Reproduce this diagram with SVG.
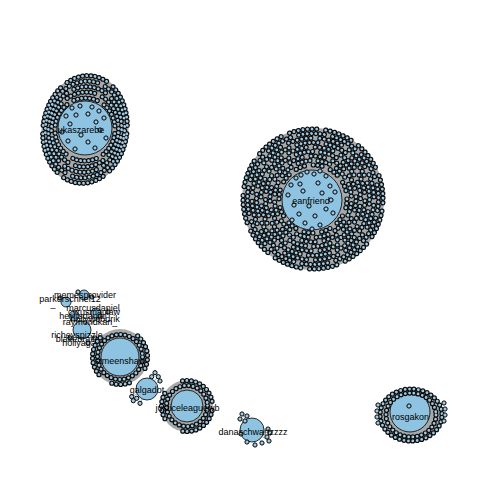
<svg xmlns="http://www.w3.org/2000/svg" width="480" height="480" viewBox="0 0 480 480">
<style>
.e{fill:#a9a9a9}
.el{stroke:#a9a9a9;stroke-width:1;fill:none}
.hub{fill:#8ec3e2;stroke:#000;stroke-width:0.8}
.lf{fill:#9fcae2;stroke:#000;stroke-width:1}
.rb{fill:none;stroke:#0d0d0d;stroke-width:5.2;stroke-linecap:round}
.rl{fill:none;stroke:#9fcae2;stroke-width:2.8;stroke-linecap:round}
text{font-family:"Liberation Sans",Arial,Helvetica,sans-serif;font-size:9px;text-anchor:middle;fill:#000}
</style>
<defs>
<circle id="n" r="2.1" class="lf"/>
<g id="bigR">
<circle r="34" stroke-dasharray="0 4.4506 0 4.4506 0 8.9012"/>
<circle r="38.5" transform="rotate(7)" stroke-dasharray="0 4.0317 0 4.0317 0 4.0317 0 8.0634"/>
<circle r="43" transform="rotate(-3)" stroke-dasharray="0 4.503 0 4.503 0 4.503 0 9.006"/>
<circle r="47.5" transform="rotate(9)" stroke-dasharray="0 4.1452 0 4.1452 0 4.1452 0 4.1452 0 8.2904"/>
<circle r="52" transform="rotate(2)" stroke-dasharray="0 4.5379 0 4.5379 0 4.5379 0 4.5379 0 9.0758"/>
<circle r="56.5" transform="rotate(13)" stroke-dasharray="0 4.2262 0 4.2262 0 4.2262 0 4.2262 0 4.2262 0 8.4524"/>
<circle r="61" transform="rotate(6)" stroke-dasharray="0 4.5628 0 4.5628 0 4.5628 0 4.5628 0 4.5628 0 9.1256"/>
<circle r="65.5" transform="rotate(17)" stroke-dasharray="0 4.287 0 4.287 0 4.287 0 4.287 0 4.287 0 4.287 0 8.574"/>
<circle r="70" transform="rotate(10)" stroke-dasharray="0 4.5815 0 4.5815 0 4.5815 0 4.5815 0 4.5815 0 4.5815 0 9.163"/>
</g>
<g id="tlR">
<ellipse rx="30" ry="31.5" stroke-dasharray="0 4.025 0 4.025 0 4.025 0 4.025 0 4.025 0 4.025 0 8.05"/>
<ellipse rx="33.5" ry="37.5" stroke-dashoffset="6" stroke-dasharray="0 4.134 0 4.134 0 4.134 0 4.134 0 4.134 0 4.134 0 4.134 0 8.268"/>
<ellipse rx="36.5" ry="43" stroke-dashoffset="-3" stroke-dasharray="0 4.17 0 4.17 0 4.17 0 4.17 0 4.17 0 4.17 0 4.17 0 4.17 0 8.34"/>
<ellipse rx="39.5" ry="48.5" stroke-dashoffset="9" stroke-dasharray="0 4.2 0 4.2 0 4.2 0 4.2 0 4.2 0 4.2 0 4.2 0 4.2 0 4.2 0 8.4"/>
<ellipse rx="42" ry="54" stroke-dashoffset="2" stroke-dasharray="0 4.205 0 4.205 0 4.205 0 4.205 0 4.205 0 4.205 0 4.205 0 4.205 0 4.205 0 4.205 0 8.41"/>
</g>
<g id="smR">
<circle cx="120" cy="357" r="22.5" stroke-dasharray="0 4.418"/>
<path d="M98.93,374.68 A27.5,27.5 0 0 1 102.32,335.93" stroke-dasharray="0 4.45"/>
<path d="M137.68,335.93 A27.5,27.5 0 0 1 143.82,370.75" stroke-dasharray="0 4.45"/>
<path d="M129.41,382.84 A27.5,27.5 0 0 1 110.59,382.84" stroke-dasharray="0 4.45"/>
</g>
<g id="jlR">
<circle cx="187" cy="406" r="20.5" stroke-dasharray="0 4.442"/>
<path d="M182.57,380.89 A25.5,25.5 0 0 1 212.11,401.57" stroke-dasharray="0 4.4"/>
<path d="M212.11,410.43 A25.5,25.5 0 0 1 182.57,431.11" stroke-dasharray="0 4.4"/>
<path d="M164.92,418.75 A25.5,25.5 0 0 1 164.92,393.25" stroke-dasharray="0 4.4"/>
</g>
<g id="rgR">
<ellipse cx="411" cy="415" rx="25" ry="22" stroke-dasharray="0 4.347"/>
<ellipse cx="411" cy="415" rx="31" ry="26" stroke-dashoffset="2" stroke-dasharray="0 4.486"/>
</g>
</defs>
<rect width="480" height="480" fill="#fff"/>
<g id="edges">
<circle cx="313" cy="199" r="71" class="e"/>
<ellipse rx="43.5" ry="55.5" transform="translate(85,129.5) rotate(8)" class="e"/>
<circle cx="120" cy="357" r="28" class="e"/>
<circle cx="187" cy="406" r="26" class="e"/>
<ellipse cx="411" cy="415" rx="33" ry="27" class="e"/>
<path class="el" d="M147,389L151.7,376.7M147,389L155,372.7M147,389L158.3,376.7M147,389L160,381M147,389L131.7,396.7M147,389L133.3,400.7M147,389L140,403.3M147,389L136.7,398.3"/>
<path class="el" d="M252,430L242,414M252,430L247,416M252,430L240,419M252,430L245,421M252,430L241,434M252,430L268,429M252,430L270,433M252,430L267,437M252,430L269,441M252,430L262,443M252,430L255,445M252,430L247,442"/>
<path class="el" d="M84,295L92,297M84,295L78,292M66,302L60,298M82,330L100,316M82,330L70,338M82,330L95,338M82,330L88,343M82,330L108,312"/>
</g>
<g id="node-eanfriend">
<circle cx="312" cy="200" r="30" class="hub"/>
<use href="#bigR" x="313" y="199" class="rb"/>
<use href="#bigR" x="313" y="199" class="rl"/>
<use href="#n" x="296" y="178"/><use href="#n" x="301" y="175"/><use href="#n" x="307" y="172"/><use href="#n" x="314" y="174"/><use href="#n" x="320" y="171"/><use href="#n" x="326" y="176"/><use href="#n" x="291" y="185"/><use href="#n" x="300" y="184"/><use href="#n" x="318" y="183"/><use href="#n" x="330" y="186"/><use href="#n" x="335" y="192"/><use href="#n" x="288" y="195"/><use href="#n" x="303" y="191"/><use href="#n" x="322" y="193"/><use href="#n" x="331" y="200"/><use href="#n" x="294" y="205"/><use href="#n" x="309" y="206"/><use href="#n" x="326" y="209"/><use href="#n" x="299" y="214"/><use href="#n" x="315" y="216"/><use href="#n" x="333" y="213"/><use href="#n" x="305" y="223"/><use href="#n" x="320" y="225"/><use href="#n" x="292" y="220"/><use href="#n" x="312" y="229"/>
<text x="311" y="204">eanfriend</text>
</g>
<g id="node-lukaszarebe">
<circle cx="85" cy="128" r="27" class="hub"/>
<use href="#tlR" transform="translate(85,129.5) rotate(8)" class="rb"/>
<use href="#tlR" transform="translate(85,129.5) rotate(8)" class="rl"/>
<use href="#n" x="72" y="108"/><use href="#n" x="80" y="106"/><use href="#n" x="92" y="107"/><use href="#n" x="99" y="111"/><use href="#n" x="66" y="116"/><use href="#n" x="76" y="115"/><use href="#n" x="88" y="114"/><use href="#n" x="104" y="118"/><use href="#n" x="70" y="124"/><use href="#n" x="96" y="122"/><use href="#n" x="62" y="132"/><use href="#n" x="81" y="135"/><use href="#n" x="100" y="130"/><use href="#n" x="68" y="141"/><use href="#n" x="88" y="142"/><use href="#n" x="106" y="138"/><use href="#n" x="75" y="149"/><use href="#n" x="95" y="148"/>
<text x="80" y="133">lukaszarebe</text>
</g>
<g id="node-smallcluster">
<circle cx="82" cy="330" r="9" class="hub"/>
<circle cx="84" cy="295" r="5" class="hub"/>
<circle cx="66" cy="302" r="5" class="hub"/>
<circle cx="74" cy="316" r="5" class="hub"/>
<circle cx="96" cy="313" r="5" class="hub"/>
<use href="#n" x="92" y="297"/><use href="#n" x="78" y="292"/><use href="#n" x="60" y="298"/><use href="#n" x="100" y="316"/><use href="#n" x="108" y="312"/><use href="#n" x="70" y="338"/><use href="#n" x="95" y="338"/><use href="#n" x="88" y="343"/>
<text x="85" y="298">memesprovider</text>
<text x="70" y="302">parkerschnel12</text>
<text x="53" y="307">_</text>
<text x="93" y="311">marcusdaniel</text>
<text x="94" y="315">cyrusmaclaw</text>
<text x="83" y="319">heyitsdaniel</text>
<text x="95" y="322">hollywoodrik</text>
<text x="90" y="325">raymondkan_</text>
<text x="77" y="338">richeyspizzle</text>
<text x="80" y="342">blakebrakes</text>
<text x="79" y="346">hollyaga</text>
</g>
<g id="node-stmeenshaw">
<circle cx="120" cy="357" r="19" class="hub"/>
<use href="#smR" class="rb"/>
<use href="#smR" class="rl"/>
<text x="120" y="364">stmeenshaw</text>
</g>
<g id="node-galgadot">
<circle cx="147" cy="389" r="11" class="hub"/>
<use href="#n" x="151.7" y="376.7"/><use href="#n" x="155" y="372.7"/><use href="#n" x="158.3" y="376.7"/><use href="#n" x="160" y="381"/><use href="#n" x="131.7" y="396.7"/><use href="#n" x="133.3" y="400.7"/><use href="#n" x="140" y="403.3"/><use href="#n" x="136.7" y="398.3"/>
<text x="147" y="393">galgadot</text>
</g>
<g id="node-justiceleaguewb">
<circle cx="187" cy="406" r="16" class="hub"/>
<use href="#jlR" class="rb"/>
<use href="#jlR" class="rl"/>
<text x="187.5" y="411">justiceleaguewb</text>
</g>
<g id="node-danaschwartzzzz">
<circle cx="252" cy="430" r="12" class="hub"/>
<use href="#n" x="242" y="414"/><use href="#n" x="247" y="416"/><use href="#n" x="240" y="419"/><use href="#n" x="245" y="421"/><use href="#n" x="241" y="434"/><use href="#n" x="268" y="429"/><use href="#n" x="270" y="433"/><use href="#n" x="267" y="437"/><use href="#n" x="269" y="441"/><use href="#n" x="262" y="443"/><use href="#n" x="255" y="445"/><use href="#n" x="247" y="442"/>
<text x="253" y="435">danaschwartzzzz</text>
</g>
<g id="node-rosgakon">
<circle cx="410" cy="412" r="20" class="hub"/>
<use href="#rgR" class="rb"/>
<use href="#rgR" class="rl"/>
<use href="#n" x="378" y="405"/><use href="#n" x="377" y="411"/><use href="#n" x="377" y="417"/><use href="#n" x="378" y="423"/><use href="#n" x="444" y="403"/><use href="#n" x="445" y="409"/><use href="#n" x="445" y="415"/><use href="#n" x="444" y="421"/><use href="#n" x="409" y="406"/>
<text x="410.5" y="420">rosgakon</text>
</g>
</svg>
